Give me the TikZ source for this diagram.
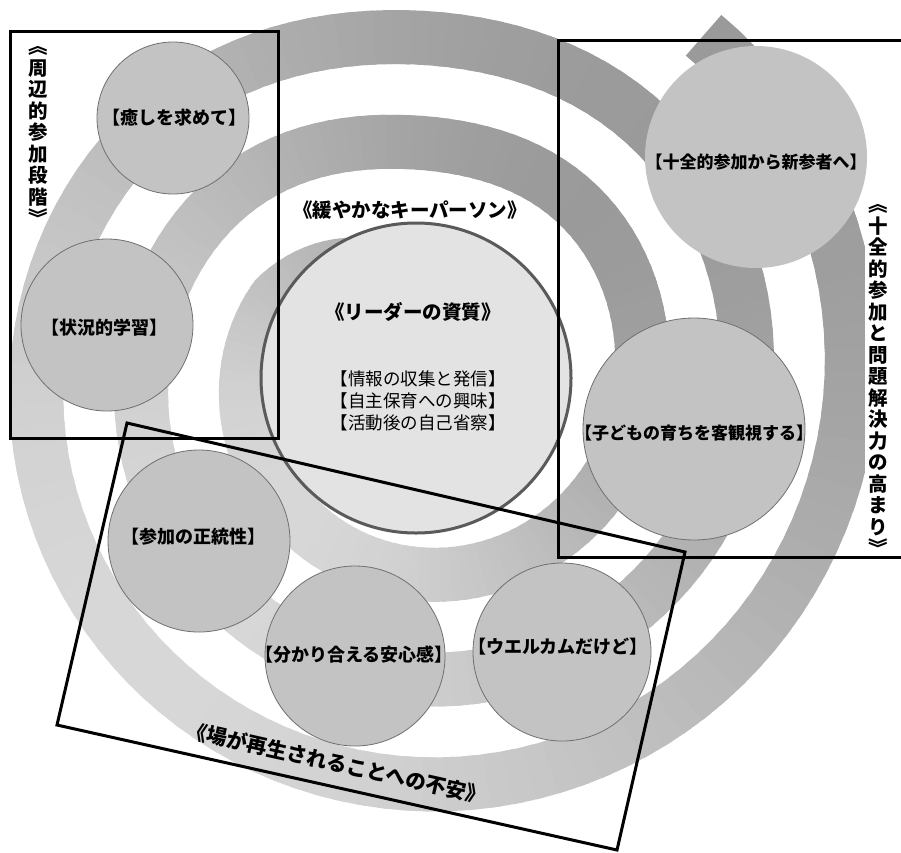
\documentclass[tikz,border=0pt]{standalone}
\usepackage{fontspec}
\newfontfamily\jp{Noto Sans CJK JP}
\definecolor{bubblegray}{HTML}{C3C3C3}
\definecolor{bubbleedge}{HTML}{707070}
\definecolor{corefill}{HTML}{E3E3E3}
\definecolor{coreedge}{HTML}{5A5A5A}
\begin{document}
\begin{tikzpicture}[x=1pt,y=-1pt,
  declare function={q(\t)=max(0,sin(\t));
    sr(\t)=0.2917*\t+118.7+1.75*cos(\t)+1.5*sin(\t)-16*q(\t)*q(\t)*q(\t)*q(\t)*q(\t)*q(\t)-0.55*max(0,150-\t);},
  bubble/.style={circle, fill=bubblegray, draw=bubbleedge, line width=0.8pt, inner sep=0pt},
  lbl/.style={font=\jp\bfseries\fontsize{18}{21}\selectfont, inner sep=0pt},
  lblthin/.style={font=\jp\fontsize{17.5}{22}\selectfont, inner sep=0pt, align=center},
  title/.style={font=\jp\bfseries\fontsize{19.5}{21.5}\selectfont, inner sep=0pt, align=center},
  frame/.style={draw=black, line width=3pt, line join=miter}]
\useasboundingbox (0,0) rectangle (901,852);
\clip (0,0) rectangle (901,852);
\fill[white] (0,0) rectangle (901,852);
% spiral band
\foreach \a in {100,103,...,1128}{
  \pgfmathsetmacro\b{min(\a+4.5,1130)}
  \pgfmathsetmacro\pc{27.5-12*cos(\a+2-225)}
  \draw[line width=54pt, black!\pc, line cap=butt]
    plot[variable=\t, domain=\a:\b, samples=3] ({416+sr(\t)*cos(\t)}, {378-sr(\t)*sin(\t)});
}
% central circle
\node[circle, fill=corefill, draw=coreedge, line width=3pt, minimum size=310pt, inner sep=0pt] (leader) at (416,378) {};
% bubbles
\node[bubble, minimum size=152pt] (iyashi) at (173,118) {};
\node[bubble, minimum size=172pt] (jokyo) at (107,325) {};
\node[bubble, minimum size=222pt, draw=none] (jyuzen) at (756,157) {};
\node[bubble, minimum size=222pt] (kodomo) at (694,429) {};
\node[bubble, minimum size=182pt] (seito) at (199,541) {};
\node[bubble, minimum size=180pt] (anshin) at (355,656) {};
\node[bubble, minimum size=178pt] (welcome) at (562,652) {};
% labels
\node[lbl] (t1) at (174,118) {【癒しを求めて】};
\node[lbl] (t2) at (104,328) {【状況的学習】};
\node[lbl, font=\jp\bfseries\fontsize{17}{20}\selectfont] (t3) at (756,162) {【十全的参加から新参者へ】};
\node[lbl, font=\jp\bfseries\fontsize{17}{20}\selectfont] (t4) at (694,433) {【子どもの育ちを客観視する】};
\node[lbl] (t5) at (193,537) {【参加の正統性】};
\node[lbl] (t6) at (354,655) {【分かり合える安心感】};
\node[lbl] (t7) at (558,647) {【ウエルカムだけど】};
\node[title] (t8) at (410,210) {《緩やかなキーパーソン》};
\node[title] (t9) at (413,312) {《リーダーの資質》};
\node[lblthin] (t10) at (418,401) {【情報の収集と発信】\\【自主保育への興味】\\【活動後の自己省察】};
\node[title] (t11) at (38,136) {︽\\周\\辺\\的\\参\\加\\段\\階\\︾};
\node[title, fill=white, inner xsep=3pt, inner ysep=2pt] (t12) at (878,380) {︽\\十\\全\\的\\参\\加\\と\\問\\題\\解\\決\\力\\の\\高\\ま\\り\\︾};
\node[title, font=\jp\bfseries\fontsize{20.5}{24}\selectfont, rotate=-12.6] (t13) at (337,763) {《場が再生されることへの不安》};
% frames
\draw[frame] (10,31) rectangle (278,438);
\draw[frame] (558,40) rectangle (910,557);
\draw[frame] (127,423) -- (685,552) -- (617,850) -- (57,725) -- cycle;
\end{tikzpicture}
\end{document}
